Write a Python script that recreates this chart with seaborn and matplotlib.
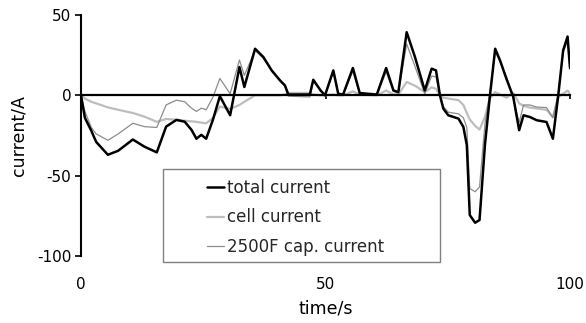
import numpy as np
import pandas as pd
import matplotlib
matplotlib.use("Agg")
import matplotlib.pyplot as plt
from matplotlib.patches import Rectangle
import seaborn as sns

# ---- data ----
time_s = [0, 0.8, 2.1, 3.1, 5.5, 7.6, 10.6, 13.0, 15.5, 17.4, 19.5, 21.2, 22.6, 23.6,
          24.6, 25.6, 27.0, 28.4, 30.5, 32.4, 33.4, 35.6, 37.3, 39.0, 40.7, 41.7, 42.4,
          46.8, 47.5, 49.0, 49.9, 51.6, 52.6, 53.6, 55.6, 57.0, 60.5, 62.4, 63.9, 64.9,
          66.6, 68.3, 70.3, 71.7, 72.6, 73.4, 74.1, 75.1, 77.2, 78.2, 78.9, 79.5, 80.6,
          81.5, 82.6, 83.6, 84.7, 85.7, 87.0, 88.4, 89.6, 90.5, 91.8, 93.2, 95.2, 96.5,
          97.6, 98.6, 99.5, 100.0]

total_current = [0, -14, -22, -29, -37, -34.5, -27.5, -32, -35.5, -19.5, -15.3, -16.4, -21.5, -27,
                 -24.6, -27, -15, -0.5, -12.4, 17.6, 5.2, 29, 23.8, 15.5, 9.3, 6.2, 0.5,
                 0.5, 9.7, 3, 0, 15.5, 1, 0.5, 17, 1.4, 0.5, 17, 3, 2,
                 39.3, 23.8, 3, 16.6, 15.5, 0, -8.3, -12.4, -14.5, -19.7, -31, -74.5, -79.3,
                 -77.6, -31, -1, 29, 21.7, 10.3, -1, -21.7, -12.4, -13.5, -15.5, -16.6, -27,
                 0, 28, 36.6, 17]

cell_current = [0, -2, -4, -5, -7.5, -9, -11, -13.3, -16.5, -14.7, -15.2, -15.8, -16.2, -16.5,
                -17, -17.4, -14, -7, -8.5, -6, -4, 0, 0, 0, 0, 0.5, 1.5,
                1.5, 0.5, 0, 0, 0.5, 0, 0, 2.5, 0.5, 0, 3, 0.5, 0.5,
                8.3, 6, 2, 5, 4, 0, -1.5, -2, -3, -6, -11, -15, -19,
                -21.3, -13.5, -2, 2, 0.5, -1.5, 1.5, -5, -6.5, -7.6, -8.2, -9, -13.5,
                -1, 1, 3, 1]

cap_current = [0, -10, -20, -24, -28, -24, -17.4, -19.5, -20, -6, -3, -4, -8, -10,
               -8, -9, -1, 10.5, 1, 22, 12.4, 28, 23, 15, 9, 5.5, -0.5,
               -1, 9, 3, 0, 14.5, 1, 0.5, 15, 1, 0.5, 14.5, 2.5, 1.5,
               32, 18, 1, 12, 11.5, 0, -7, -10.5, -11.5, -14, -20, -58, -60,
               -57, -18, 1, 27, 21, 11.5, -2, -17, -6, -6, -7.3, -7.6, -14,
               1, 27, 33.5, 16]

x_ticks = [0, 50, 100]
y_ticks = [-100, -50, 0, 50]

labels = ["total current", "cell current", "2500F cap. current"]

df = pd.DataFrame({"time": time_s, "total": total_current,
                   "cell": cell_current, "cap": cap_current})

sns.set_theme(style="white")
plt.rcParams["font.family"] = ["DejaVu Sans"]

W, H = 586, 323
fig = plt.figure(figsize=(W / 100, H / 100), dpi=100)
ax = fig.add_axes([81 / W, 1 - 256 / H, (570 - 81) / W, (256 - 15) / H])

sns.lineplot(data=df, x="time", y="cell", ax=ax, color="#bdbdbd", linewidth=1.6,
             label=labels[1], zorder=2)
sns.lineplot(data=df, x="time", y="cap", ax=ax, color="#8c8c8c", linewidth=0.9,
             label=labels[2], zorder=3)
sns.lineplot(data=df, x="time", y="total", ax=ax, color="black", linewidth=1.8,
             label=labels[0], zorder=4)

ax.set_xlim(0, 100)
ax.set_ylim(-100, 50)
ax.set_xticks(x_ticks)
ax.set_yticks(y_ticks)
ax.set_xticklabels([str(v) for v in x_ticks])
ax.set_yticklabels([str(v) for v in y_ticks])

for s in ["top", "right"]:
    ax.spines[s].set_visible(False)
ax.spines["left"].set_color("black")
ax.spines["left"].set_linewidth(1.5)
ax.spines["bottom"].set_position(("data", 0))
ax.spines["bottom"].set_color("black")
ax.spines["bottom"].set_linewidth(1.6)
ax.spines["bottom"].set_zorder(5)

ax.tick_params(axis="y", direction="out", length=4, width=1.2, color="black",
               pad=3, labelsize=11, labelcolor="black", left=True)
ax.tick_params(axis="x", direction="out", length=3, width=1.2, color="black",
               pad=128, labelsize=11, labelcolor="black", bottom=True)

ax.set_xlabel("time/s", fontsize=12.5, labelpad=5, color="black")
ax.set_ylabel("current/A", fontsize=12.5, labelpad=7, color="black")
ax.grid(False)

handles, labs = ax.get_legend_handles_labels()
order = [labs.index(l) for l in labels]
ax.legend([handles[i] for i in order], [labs[i] for i in order],
          loc="upper left", bbox_to_anchor=(207 / W, 1 - 179 / H),
          bbox_transform=fig.transFigure, frameon=False, borderpad=0,
          borderaxespad=0, handlelength=1.0, handletextpad=0.2,
          labelspacing=0.68, fontsize=12)

box = Rectangle((163 / W, 1 - 262 / H), 277 / W, 93 / H, transform=fig.transFigure,
                facecolor="none", edgecolor="#808080", linewidth=1.0, zorder=6)
fig.patches.append(box)

fig.savefig("out.png", dpi=100)
